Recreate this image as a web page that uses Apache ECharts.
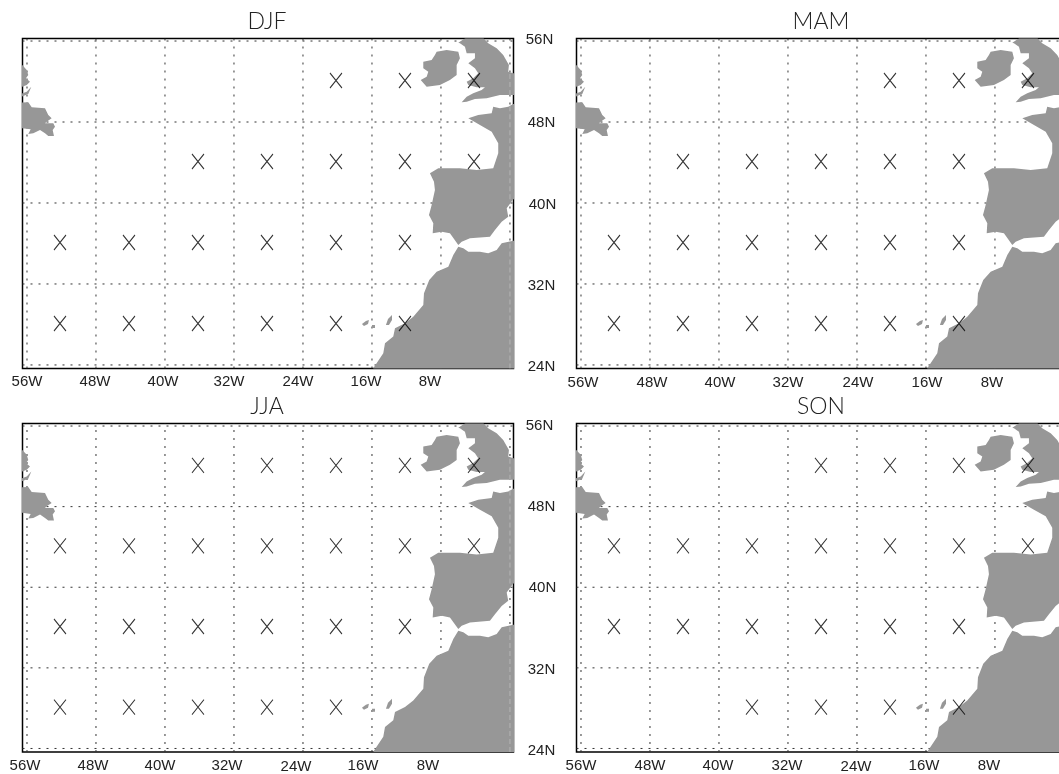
<!DOCTYPE html>
<html>
<head>
<meta charset="utf-8">
<style>html,body{margin:0;padding:0;background:#fff;overflow:hidden;width:1059px;height:774px}#c{width:1075px;height:774px}</style>
<script src="https://cdn.jsdelivr.net/npm/echarts@6/dist/echarts.min.js"></script>
</head>
<body>
<div id="c"></div>
<script>
// ---- tick labels ----
const lonTicks = [-56,-48,-40,-32,-24,-16,-8,0];
const latTicks = [56,48,40,32,24];
const lonLabels = ['56W','48W','40W','32W','24W','16W','8W'];
const latLabels = ['56N','48N','40N','32N','24N'];
const seasons = ['DJF','MAM','JJA','SON'];
// ---- centres of the marked boxes ----
const marksDJF = [[-20,52],[-12,52],[-4,52],[-36,44],[-28,44],[-20,44],[-12,44],[-4,44],
  [-52,36],[-44,36],[-36,36],[-28,36],[-20,36],[-12,36],[-52,28],[-44,28],[-36,28],[-28,28],[-20,28],[-12,28]];
const marksMAM = [[-20,52],[-12,52],[-4,52],[-44,44],[-36,44],[-28,44],[-20,44],[-12,44],
  [-52,36],[-44,36],[-36,36],[-28,36],[-20,36],[-12,36],[-52,28],[-44,28],[-36,28],[-28,28],[-20,28],[-12,28]];
const marksJJA = [[-36,52],[-28,52],[-20,52],[-12,52],[-4,52],[-52,44],[-44,44],[-36,44],[-28,44],[-20,44],[-12,44],[-4,44],
  [-52,36],[-44,36],[-36,36],[-28,36],[-20,36],[-12,36],[-52,28],[-44,28],[-36,28],[-28,28],[-20,28]];
const marksSON = [[-28,52],[-20,52],[-12,52],[-4,52],[-52,44],[-44,44],[-36,44],[-28,44],[-20,44],[-12,44],[-4,44],
  [-52,36],[-44,36],[-36,36],[-28,36],[-20,36],[-12,36],[-36,28],[-28,28],[-20,28],[-12,28]];
// ---- land outlines, lon/lat ----
const africa = [[-16,23],[-15.85,23.67],[-14.69,25.16],[-14.49,26.14],[-13.53,26.8],[-13.33,27.62],[-12.17,28.12],[-11.21,28.77],
  [-10.05,29.93],[-9.97,31.08],[-9.36,32.4],[-8.5,33.21],[-7.15,33.71],[-6.57,34.86],[-5.99,35.68],[-5.41,35.53],[-4.83,35.19],
  [-3.48,35.19],[-2.52,35.03],[-1.54,35.36],[-0.96,36.02],[0.38,36.28],[2,36.28],[2,23]];
const iberiaFrance = [[-9.28,42.93],[-8.31,43.43],[-5.8,43.43],[-3.86,43.26],[-1.94,43.43],[-1.36,44.91],[-1.36,45.9],[-2.12,47.04],
  [-3.48,47.7],[-4.83,48.37],[-3.68,48.69],[-2.12,48.86],[-1.94,49.51],[-1.16,49.35],[-0.2,49.51],[0.38,49.78],[2,49.78],[2,40.37],
  [0.38,40.37],[-0.38,39.48],[-0.2,38.65],[-0.96,38.15],[-1.74,37.33],[-2.32,36.67],[-4.64,36.51],[-5.6,36.18],[-5.99,35.85],
  [-6.96,37.01],[-7.92,37.17],[-8.96,37.01],[-8.89,38.0],[-9.39,38.81],[-9.08,39.8],[-8.7,41.28],[-8.81,42.1]];
const ireland = [[-8.5,54.94],[-7.34,55.11],[-5.99,54.94],[-5.8,54.29],[-6.18,53.63],[-6.18,52.64],[-6.96,52.15],[-8.12,51.65],
  [-9.66,51.49],[-10.35,52.15],[-9.66,52.47],[-9.47,52.97],[-10.05,53.3],[-10.05,53.96],[-9.08,54.12],[-8.7,54.62]];
const britain = [[-5.99,55.83],[-4.83,56.49],[-3.28,56.49],[-2.52,55.77],[-1.54,55.28],[-0.78,54.62],[-0.12,53.63],[-0.2,52.97],[0.38,52.81],
  [2,52.81],[2,50.67],[0.38,50.67],[-1.16,50.67],[-2.7,50.34],[-4.06,50.27],[-5.02,50.0],[-5.6,49.95],[-5.02,50.5],[-4.26,50.83],[-3.28,51.16],
  [-2.9,51.43],[-3.86,51.43],[-4.83,51.65],[-5.02,51.98],[-4.26,52.32],[-3.68,52.81],[-4.06,53.3],[-4.83,53.8],[-4.06,54.29],[-4.06,54.79],
  [-5.02,54.79],[-5.22,55.44],[-5.8,55.77]];
const labrador = [[-58,53.63],[-56.55,53.63],[-56.03,53.14],[-55.85,52.64],[-56.12,52.32],[-55.65,51.98],[-56.03,51.65],[-56.55,51.49],[-58,51.49]];
const sliver = [[-58,50.34],[-56.03,51.0],[-55.5,51.49],[-55.85,50.77],[-58,50.0]];
const newfoundland = [[-58,49.85],[-55.85,49.95],[-55.45,49.45],[-53.91,49.35],[-53.53,48.69],[-53.14,48.37],[-53.72,48.03],[-53.91,47.87],
  [-52.95,47.87],[-52.75,47.54],[-53.02,47.21],[-52.87,46.62],[-53.53,46.62],[-53.91,46.88],[-54.49,47.21],[-55.27,46.88],[-55.85,46.81],[-55.57,47.28],[-58,47.54]];
const canaryWest = [[-17.16,28.05],[-16.7,28.35],[-16.35,28.44],[-16.46,28.05],[-16.93,27.85]];
const canaryMid = [[-16,27.95],[-15.65,27.95],[-15.65,27.65],[-16,27.65]];
const canaryEast = [[-14.38,27.95],[-14.14,28.54],[-13.68,28.94],[-13.68,28.44],[-14.03,27.95]];
const land = [africa,iberiaFrance,ireland,britain,labrador,sliver,newfoundland,canaryWest,canaryMid,canaryEast];
// stretches of the 0-degree meridian that show faintly over land
const meridianOverLand = [[23.65,36.28],[40.37,49.78],[50.67,52.81]];

// ---- layout / style (not data) ----
const panels = [
  {left:22.5, top:38.5, marks:marksDJF, yLab:false, titleX:267, titleY:22,
   dx:[0,-1,-2,-5,-5,-6,-11], dy:[0,0,0,0,0,0,0], rowY:382},
  {left:576.5, top:38.5, marks:marksMAM, yLab:true, titleX:821, titleY:22,
   dx:[2,2,1,0,1,1,-3], dy:[0,0,0,0,0,0,0], rowY:383,
   ldx:[-2,0,1,0,0], ldy:[-1,1,2,2,2]},
  {left:22.5, top:423.5, marks:marksJJA, yLab:false, titleX:267, titleY:407,
   dx:[-2,-3,-5,-7,-7,-9,-13], dy:[0,0,0,0,1,0,0], rowY:767},
  {left:576.5, top:423.5, marks:marksSON, yLab:true, titleX:821, titleY:407,
   dx:[0,0,-1,-1,-1,-2,-6], dy:[0,0,0,0,1,0,0], rowY:767,
   ldx:[-2,0,1,0,0], ldy:[0,0,1,2,2]}
];
const W = 491, H = 330;
const lonMin = -56.52, lonMax = 0.41, latMin = 23.65, latMax = 56.25;
const font = 'Liberation Sans, Helvetica, Arial, sans-serif';
const textColor = '#222', landColor = '#979797';

function pad(dx, dy){
  return [Math.max(2*dy,0), Math.max(-2*dx,0), Math.max(-2*dy,0), Math.max(2*dx,0)];
}
const option = {animation:false, backgroundColor:'#fff', grid:[], xAxis:[], yAxis:[], series:[], title:[]};
panels.forEach((p,i)=>{
  option.grid.push({left:p.left, top:p.top, width:W, height:H, show:true, borderColor:'#000', borderWidth:1.5, backgroundColor:'#fff'});
  const xr = {}; p.dx.forEach((d,k)=>{ xr['x'+k]={padding:pad(d,p.dy[k]), fontSize:15, fontFamily:font, color:textColor}; });
  option.xAxis.push({type:'value', gridIndex:i, min:lonMin, max:lonMax,
    axisLine:{show:false}, axisTick:{show:false}, splitLine:{show:false},
    axisLabel:{show:true, customValues:lonTicks.slice(0,7), margin:p.rowY-(p.top+H), verticalAlign:'middle', hideOverlap:false,
      showMinLabel:true, showMaxLabel:true,
      formatter:(v)=>{const k=lonTicks.indexOf(v); return k<0||k>6?'':'{x'+k+'|'+lonLabels[k]+'}';}, rich:xr}});
  const yr = {};
  if(p.yLab) latTicks.forEach((t,k)=>{ yr['y'+k]={padding:pad(p.ldx[k],p.ldy[k]), fontSize:15, fontFamily:font, color:textColor}; });
  option.yAxis.push({type:'value', gridIndex:i, min:latMin, max:latMax,
    axisLine:{show:false}, axisTick:{show:false}, splitLine:{show:false},
    axisLabel:{show:p.yLab, customValues:latTicks, margin:35, align:'center', hideOverlap:false,
      formatter:(v)=>{const k=latTicks.indexOf(v); return k<0?'':'{y'+k+'|'+latLabels[k]+'}';}, rich:yr}});
  option.title.push({text:seasons[i], left:p.titleX, top:p.titleY, padding:0, textAlign:'center', textVerticalAlign:'middle',
    textStyle:{fontSize:23, fontWeight:300, fontFamily:'Lato, sans-serif', color:'#222'}});
  // graticule
  const gl = [];
  lonTicks.forEach(v=>gl.push([v,latMin,v,latMax]));
  latTicks.forEach(v=>gl.push([lonMin,v,lonMax,v]));
  option.series.push({type:'custom', xAxisIndex:i, yAxisIndex:i, coordinateSystem:'cartesian2d', z:1, silent:true, clip:true, data:gl,
    renderItem:(params,api)=>{
      const a=api.coord([api.value(0),api.value(1)]), b=api.coord([api.value(2),api.value(3)]);
      return {type:'line', shape:{x1:a[0],y1:a[1],x2:b[0],y2:b[1]}, style:{stroke:'#333', lineWidth:1, lineDash:[2,6]}};
    }, encode:{x:[0,2],y:[1,3]}});
  // land
  land.forEach(poly=>{
    option.series.push({type:'custom', xAxisIndex:i, yAxisIndex:i, coordinateSystem:'cartesian2d', z:2, silent:true, clip:true, data:poly,
      renderItem:(params,api)=>{
        if(params.dataIndex!==0) return null;
        const pts=poly.map(c=>api.coord(c));
        return {type:'polygon', shape:{points:pts}, style:{fill:landColor}};
      }, encode:{x:0,y:1}});
  });
  // faint meridian over land
  option.series.push({type:'custom', xAxisIndex:i, yAxisIndex:i, coordinateSystem:'cartesian2d', z:2.5, silent:true, clip:true, data:meridianOverLand,
    renderItem:(params,api)=>{
      const a=api.coord([0,api.value(0)]), b=api.coord([0,api.value(1)]);
      return {type:'line', shape:{x1:a[0],y1:a[1],x2:b[0],y2:b[1]}, style:{stroke:'#b4b4b4', lineWidth:1, lineDash:[5,3]}};
    }, encode:{y:[0,1]}});
  // X marks
  option.series.push({type:'scatter', xAxisIndex:i, yAxisIndex:i, z:3, silent:true, data:p.marks,
    symbol:'path://M0 0L12 15M12 0L0 15', symbolSize:[12,15], symbolOffset:[-1.5,-1],
    itemStyle:{color:'none', borderColor:'#000', borderWidth:1.1}});
});
echarts.init(document.getElementById('c'),null,{renderer:'canvas'}).setOption(option);
</script>
</body>
</html>
